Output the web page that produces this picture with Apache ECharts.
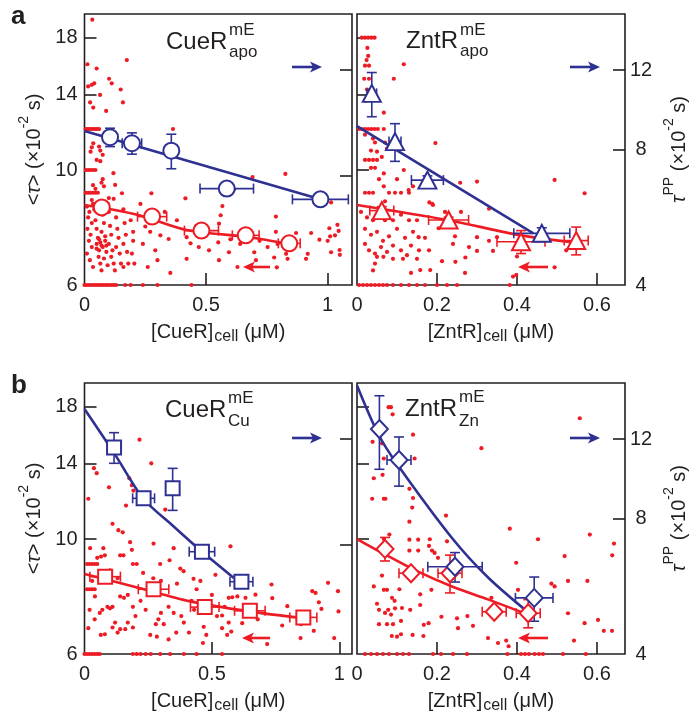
<!DOCTYPE html>
<html><head><meta charset="utf-8">
<script src="https://cdn.jsdelivr.net/npm/echarts@6/dist/echarts.min.js"></script>
<style>html,body{margin:0;padding:0;background:#fff}#c{width:691px;height:719px}</style>
</head><body><div id="c"></div><script>
// ---------- DATA ----------
// Panel a, left: CueR apo. Dots: [CueR]cell (uM), <tau> (x10^-2 s)
const aL_dots = [[0.032,19.5],[0.012,16.0],[0.05,15.7],[0.174,16.3],[0.101,15.0],[0.112,14.7],[0.149,14.3],[0.015,14.5],[0.03,14.6],[0.04,14.7],[0.064,13.96],[0.023,13.5],[0.036,13.2],[0.158,13.5],[0.089,13.0],
[0.005,12],[0.012,12],[0.02,12],[0.028,12],[0.036,12],[0.044,12],[0.052,12],[0.06,12],[0.364,12],
[0.036,11.26],[0.03,11.06],[0.025,10.85],[0.065,10.9],[0.075,10.7],[0.06,11.1],[0.05,10.46],[0.065,10.4],
[0.005,10],[0.015,10],[0.025,10],[0.035,10],[0.045,10],
[0.119,9.86],[0.075,9.6],[0.07,9.45],[0.08,9.3],[0.126,9.36],[0.035,9.35],[0.045,9.2],
[0.005,9.04],[0.015,9.04],[0.025,9.04],[0.035,9.04],[0.045,9.04],[0.055,9.04],
[0.154,9.02],[0.275,9.02],[0.1,8.83],[0.12,8.8],[0.03,8.75],[0.035,8.6],
[0.01,8.5],[0.02,8.3],[0.015,8.1],[0.03,7.9],[0.012,7.7],[0.025,7.5],[0.018,7.3],[0.03,7.1],[0.01,6.9],[0.022,6.7],[0.035,6.5],[0.04,8.4],[0.045,8.0],[0.05,7.7],[0.055,7.4],[0.05,7.2],[0.06,7.0],[0.058,6.8],[0.065,6.6],[0.07,6.4],[0.075,8.2],[0.08,7.9],[0.07,7.6],[0.085,7.3],[0.075,7.1],[0.09,6.95],[0.08,6.75],[0.095,6.55],[0.1,8.3],[0.105,7.8],[0.11,7.5],[0.1,7.2],[0.115,7.0],[0.11,6.8],[0.12,6.6],[0.125,6.4],[0.13,8.1],[0.135,7.7],[0.14,7.4],[0.13,7.1],[0.145,6.9],[0.15,6.6],[0.16,8.4],[0.165,7.9],[0.17,7.5],[0.16,7.2],[0.175,6.95],[0.18,6.6],[0.19,8.0],[0.2,7.6],[0.2,7.3],[0.195,6.9],[0.205,6.6],[0.16,6.5],[0.06,7.35],[0.065,7.25],[0.07,7.15],[0.05,7.05],[0.085,7.45],[0.09,7.15],
[0.25,7.78],[0.312,7.48],[0.291,7.0],[0.346,7.36],[0.42,7.42],[0.436,7.22],[0.353,6.33],[0.42,6.74],[0.512,7.0],
[0.33,8.3],[0.38,8.0],[0.23,8.6],[0.27,7.6],[0.24,7.2],[0.3,6.7],[0.26,6.5],
[0.0,6],[0.01,6],[0.02,6],[0.03,6],[0.04,6],[0.05,6],[0.06,6],[0.07,6],[0.08,6],[0.09,6],[0.1,6],[0.11,6],[0.12,6],[0.13,6],[0.167,6],[0.19,6],[0.24,6],[0.3,6],[0.44,6],
[0.826,9.83],[0.691,9.69],[1.014,8.66],[0.567,8.52],[0.56,8.18],[0.553,7.88],[0.787,7.6],[0.87,7.56],[0.932,7.56],[0.966,7.34],[1.0,7.3],[1.007,7.72],[1.04,7.84],[1.045,7.63],[1.01,7.45],[1.03,7.48],[0.753,7.1],[0.794,7.2],[0.78,6.78],[0.829,6.89],[0.835,6.74],[0.911,6.74],[0.918,6.89],[1.014,6.94],[1.049,7.01],[1.05,6.86],[0.594,6.94],[0.698,6.94],[0.705,6.7],[0.553,6.7],[0.629,6.5],[0.791,6.49],[0.615,9.18],[0.415,8.82],[0.787,8.13],
[0.46,7.8],[0.5,7.5],[0.6,7.35],[0.64,7.2],[0.68,7.55],[0.72,7.3],[0.47,7.1],[0.55,7.25]];
const aL_redX = [0.071,0.278,0.481,0.663,0.842];
const aL_redY = [8.47,8.13,7.64,7.48,7.22];
const aL_redXErr = [0.03,0.06,0.07,0.055,0.045];
const aL_redYErr = [0.1,0.1,0.1,0.1,0.1];
const aL_blueX = [0.105,0.195,0.357,0.585,0.97];
const aL_blueY = [8.52,8.26,7.95,6.55,6.2];
const aL_blueXErr = [0.02,0.04,0.02,0.11,0.115];
const aL_blueYErr = [0.4,0.45,0.7,0.12,0.1];
const aL_redFit = [[0,8.56],[0.216,8.2],[0.42,7.66],[0.677,7.42],[0.842,7.2]];
const aL_blueFit = [[0,8.79],[0.97,6.2]];

// Panel a, right: ZntR apo
const aR_dots = [[0.012,18],[0.02,18],[0.028,18],[0.036,18],[0.044,18],
[0.026,17.2],[0.028,16.6],[0.024,16.3],[0.02,15.9],[0.03,15.9],[0.117,16.0],[0.018,15.0],[0.03,15.0],[0.092,15.0],[0.025,14.3],[0.022,13.6],[0.067,12.9],
[0.005,12],[0.012,12],[0.02,12],[0.028,12],[0.036,12],[0.044,12],[0.052,12],[0.067,12],
[0.02,11.7],[0.04,11.5],[0.045,11.3],[0.07,11.3],[0.196,11.27],[0.075,11.0],[0.035,10.9],[0.05,10.85],[0.062,10.6],
[0.02,10.46],[0.03,10.46],[0.04,10.46],[0.05,10.46],[0.035,10.1],[0.045,10.1],[0.117,10.0],[0.067,9.85],[0.055,9.6],[0.067,9.3],[0.1,9.6],[0.14,9.3],[0.258,9.45],[0.30,9.5],
[0.02,9.04],[0.03,9.04],[0.04,9.04],[0.08,9.04],[0.095,9.04],[0.11,9.04],[0.13,9.04],
[0.129,9.15],[0.181,8.66],[0.188,8.6],[0.19,8.56],[0.07,8.7],
[0.01,8.3],[0.025,8.1],[0.04,8.0],[0.055,8.1],[0.07,8.0],[0.09,8.0],[0.11,8.2],[0.13,8.0],[0.15,8.0],[0.02,7.7],[0.035,7.5],[0.05,7.6],[0.065,7.3],[0.08,7.45],[0.1,7.7],[0.12,7.4],[0.14,7.6],[0.154,7.42],[0.17,7.4],[0.02,7.2],[0.03,7.0],[0.045,6.9],[0.06,7.1],[0.075,6.95],[0.09,7.15],[0.11,7.0],[0.125,6.85],[0.135,7.15],[0.155,7.0],[0.18,7.0],[0.09,6.74],[0.115,6.74],[0.15,6.74],[0.05,6.8],[0.066,6.8],[0.045,6.6],[0.158,6.41],[0.183,6.41],[0.2125,6.67],[0.246,6.65],[0.271,6.78],[0.30,7.42],[0.30,6.98],[0.245,7.45],[0.204,7.72],[0.22,8.3],[0.26,8.3],[0.24,7.2],[0.28,7.1],[0.33,8.42],[0.33,7.3],[0.35,7.42],[0.34,6.98],[0.40,6.81],[0.494,6.49],[0.398,6.27],[0.382,6.0],[0.39,6.23],[0.494,9.57],[0.569,9.02],[0.523,7.0],[0.27,6.33],[0.135,6.33],[0.04,6.4],
[0.005,6],[0.015,6],[0.025,6],[0.035,6],[0.045,6],[0.055,6],[0.065,6],[0.075,6],[0.09,6],[0.11,6],[0.13,6],[0.15,6],[0.17,6],[0.2,6],[0.225,6],[0.25,6]];
const aR_redX = [0.062,0.229,0.41,0.548];
const aR_redY = [8.35,8.01,7.27,7.31];
const aR_redXErr = [0.03,0.05,0.06,0.03];
const aR_redYErr = [0.15,0.1,0.37,0.45];
const aR_blueX = [0.037,0.095,0.176,0.462];
const aR_blueY = [10.66,8.33,6.84,5.21];
const aR_blueXErr = [0.012,0.015,0.04,0.07];
const aR_blueYErr = [1.2,0.8,0.15,0.15];
const aR_redFit = [[0,8.56],[0.229,8.0],[0.41,7.48],[0.55,7.24]];
const aR_blueFit = [[0,9.02],[0.441,5.21]];

// Panel b, left: CueR Cu
const bL_dots = [[0.216,15.55],[0.262,14.0],[0.037,13.7],[0.048,13.4],[0.096,12.58],[0.176,13.1],[0.186,12.7],[0.192,12.4],[0.015,11.96],[0.163,11.6],[0.317,11.4],[0.11,10.7],[0.133,10.4],[0.15,10.3],[0.179,9.86],[0.271,9.8],[0.022,9.6],[0.074,9.6],[0.186,9.53],[0.35,9.6],[0.14,9.3],[0.153,9.3],[0.05,9.2],[0.065,9.25],[0.08,9.3],
[0.01,8.95],[0.02,8.95],[0.03,8.95],[0.04,8.95],[0.05,8.95],
[0.19,8.95],[0.205,8.95],[0.297,8.95],[0.334,9.1],[0.376,8.77],[0.389,8.67],
[0.01,8.0],[0.02,8.0],[0.03,8.0],[0.04,8.0],
[0.363,8.2],[0.428,8.38],[0.455,8.3],[0.041,7.75],[0.09,7.4],[0.1,7.35],[0.11,7.4],[0.06,7.2],[0.07,7.3],[0.14,7.75],[0.155,7.7],[0.17,7.8],[0.19,7.4],[0.2,7.1],[0.17,6.9],[0.19,6.75],[0.16,6.7],[0.14,6.7],[0.015,6.73],[0.064,6.53],[0.08,6.55],[0.12,6.9],[0.11,6.75],[0.13,6.6],[0.258,6.53],[0.284,6.48],[0.28,6.85],[0.29,7.0],[0.3,7.2],[0.33,7.4],[0.35,7.2],[0.311,6.85],[0.38,7.1],[0.39,6.9],[0.468,6.77],[0.478,6.53],[0.465,6.3],[0.24,7.3],[0.22,7.6],[0.25,8.1],[0.27,8.4],[0.3,8.3],[0.23,8.6],[0.13,8.4],[0.1,8.7],[0.06,8.5],[0.03,8.3],[0.02,7.3],[0.04,7.0],[0.42,7.6],[0.44,8.0],[0.43,7.3],[0.41,6.6],[0.36,6.6],[0.33,6.4],
[0.0,6],[0.01,6],[0.02,6],[0.03,6],[0.04,6],[0.05,6],[0.06,6],[0.19,6],[0.205,6],[0.22,6],[0.24,6],[0.26,6],[0.297,6],[0.336,6],[0.39,6],[0.44,6],[0.54,6],
[0.573,9.68],[0.514,8.53],[0.566,7.7],[0.58,7.72],[0.6,7.75],[0.632,7.7],[0.671,7.81],[0.734,8.17],[0.737,7.69],[0.796,7.42],[0.776,6.81],[0.848,6.44],[0.9,6.65],[0.894,7.93],[0.907,7.87],[0.92,7.55],[0.93,7.33],[0.956,8.23],[0.995,7.93],[0.997,7.25],[0.98,6.44],[0.717,6.27],[0.566,6.9],[0.576,6.63],[0.56,6.53],[0.54,6.73],[0.52,7.1],[0.54,7.12],[0.619,6.88],[0.68,7.0],[0.86,7.1],[0.85,6.85],[0.5,7.8],[0.55,7.4]];
const bL_redX = [0.081,0.271,0.472,0.649,0.859];
const bL_redY = [8.46,8.0,7.39,7.27,7.06];
const bL_redXErr = [0.06,0.06,0.056,0.06,0.053];
const bL_redYErr = [0.1,0.1,0.1,0.1,0.1];
const bL_blueX = [0.116,0.232,0.346,0.461,0.616];
const bL_blueY = [11.51,8.87,9.34,6.75,5.79];
const bL_blueXErr = [0.015,0.043,0.01,0.05,0.045];
const bL_blueYErr = [0.9,0.2,1.0,0.15,0.1];
const bL_redFit = [[0,8.56],[0.192,8.1],[0.415,7.58],[0.645,7.25],[0.861,7.03]];
const bL_blueFit = [[0,14.0],[0.12,11.09],[0.2315,8.85],[0.35,7.68],[0.4575,6.78],[0.586,5.9]];

// Panel b, right: ZntR Zn
const bR_dots = [[0.079,17.96],[0.085,17.96],[0.089,17.4],[0.14,15.9],[0.039,15.4],[0.0625,15.3],[0.311,14.97],[0.067,14.3],[0.144,14.3],[0.042,13.1],[0.064,13.3],[0.131,12.5],[0.038,11.96],[0.067,11.96],[0.071,11.96],[0.14,12.0],[0.138,11.5],[0.2225,11.1],[0.131,10.8],[0.081,10.2],[0.067,10.0],[0.131,9.97],[0.153,9.97],[0.131,9.5],[0.153,9.5],[0.182,9.99],[0.1875,9.5],[0.194,9.4],[0.2025,9.2],[0.18,9.7],[0.225,9.9],[0.042,8.1],[0.0625,8.5],[0.067,7.98],[0.075,7.98],[0.106,8.0],[0.0875,7.7],[0.094,7.6],[0.158,7.82],[0.186,7.98],[0.05,7.5],[0.055,7.3],[0.07,7.2],[0.078,7.3],[0.085,7.15],[0.095,7.35],[0.1125,7.36],[0.133,7.3],[0.158,7.46],[0.211,7.08],[0.179,6.88],[0.167,6.83],[0.055,6.85],[0.075,6.85],[0.09,6.85],[0.11,6.95],[0.087,6.5],[0.1,6.48],[0.11,6.55],[0.139,6.53],[0.166,6.5],[0.25,7.03],[0.2525,6.73],[0.276,7.1],[0.29,6.8],[0.275,6.0],[0.24,6.0],[0.21,6.0],[0.19,6.0],
[0.02,6],[0.035,6],[0.05,6],[0.065,6],[0.08,6],[0.1,6],[0.115,6],[0.13,6],
[0.557,17.1],[0.382,10.47],[0.4525,9.99],[0.582,10.2],[0.6425,9.8],[0.638,9.3],[0.519,9.27],[0.398,9.0],[0.486,8.2],[0.494,8.1],[0.5275,8.3],[0.576,8.3],[0.4025,7.98],[0.336,7.7],[0.5275,7.19],[0.569,6.88],[0.6025,6.98],[0.617,6.65],[0.6375,6.65],[0.5425,6.37],[0.3275,6.44],[0.3525,6.3],[0.373,6.37],[0.379,6.21],[0.376,6],[0.41,6],[0.42,6],[0.43,6],[0.444,6],[0.455,6],[0.465,6],[0.515,6],[0.572,6]];
const bR_redX = [0.07,0.135,0.2325,0.343,0.428];
const bR_redY = [9.57,8.59,8.59,7.24,7.19];
const bR_redXErr = [0.01,0.03,0.03,0.03,0.03];
const bR_redYErr = [0.5,0.1,0.72,0.1,0.45];
const bR_blueX = [0.056,0.105,0.245,0.443];
const bR_blueY = [12.64,10.79,6.25,5.33];
const bR_blueXErr = [0.01,0.03,0.068,0.047];
const bR_blueYErr = [2.35,1.35,0.47,0.6];
const bR_redFit = [[0,10.0],[0.071,9.33],[0.154,8.64],[0.2375,8.1],[0.329,7.64],[0.44,7.09]];
const bR_blueFit = [[0,15.8],[0.054,12.28],[0.104,10.45],[0.2375,7.24],[0.329,5.9],[0.44,4.85]];

// Axis ticks / labels
const xMaxL = [1.1, 1.05], xMaxR = 0.67;
const xLabelsL = [0, 0.5, 1], xTicksL = [0.5, 1];
const xLabelsR = [0, 0.2, 0.4, 0.6], xTicksR = [0.2, 0.4, 0.6];
const tauMin = 6, tauMax = 20, tauLabels = [6, 10, 14, 18], tauTicks = [10, 14, 18];
const ppMin = 4, ppMax = 16, ppLabels = [4, 8, 12], ppTicks = [8, 12], ppTicksInner = [7, 12];

// ---------- CHART ----------
const F = '"Liberation Sans", Arial, sans-serif';
const BLUE = '#2e3192', RED = '#ed1c24', INK = '#231f20';
const chart = echarts.init(document.getElementById('c'), null, {renderer: 'canvas'});

const grids = [
  {left: 84.5, top: 14, width: 267.5, height: 271},
  {left: 357, top: 14, width: 268, height: 271},
  {left: 84.5, top: 383, width: 267.5, height: 271},
  {left: 357, top: 383, width: 268, height: 271}
].map(g => Object.assign(g, {show: true, borderColor: INK, borderWidth: 1.6, backgroundColor: 'transparent',
  containLabel: false, outerBoundsMode: 'none'}));

const tickStyle = {color: INK, width: 1.6};
const labelBase = {fontSize: 20, fontFamily: F, color: INK};
const richName = {
  b: {fontSize: 20, fontFamily: F, color: INK, lineHeight: 20, padding: [7, 0, 0, 0], verticalAlign: 'top'},
  i: {fontSize: 20, fontFamily: F, color: INK, fontStyle: 'italic', lineHeight: 20, padding: [7, 0, 0, 0], verticalAlign: 'top'},
  p: {fontSize: 14, fontFamily: F, color: INK, lineHeight: 14, verticalAlign: 'top'},
  s: {fontSize: 16, fontFamily: F, color: INK, lineHeight: 16, padding: [13, 0, 0, 1], verticalAlign: 'top'}
};

function xAxis(gi, left, max, nameStr) {
  return {
    type: 'value', gridIndex: gi, min: 0, max: max,
    axisLine: {show: false}, splitLine: {show: false},
    axisTick: {show: true, inside: true, length: 12, lineStyle: tickStyle, customValues: left ? xTicksL : xTicksR},
    axisLabel: Object.assign({margin: 10, customValues: left ? xLabelsL : xLabelsR,
      formatter: v => String(v)}, labelBase),
    name: nameStr, nameLocation: 'middle', nameGap: 30,
    nameTextStyle: {rich: richName}
  };
}
function tauAxis(gi, show) {
  return {
    type: 'log', logBase: 10, gridIndex: gi, min: tauMin, max: tauMax, position: 'left',
    axisLine: {show: false}, splitLine: {show: false}, minorTick: {show: false}, minorSplitLine: {show: false},
    axisTick: {show: true, inside: true, length: 12, lineStyle: tickStyle, customValues: tauTicks},
    axisLabel: Object.assign({show: show, margin: 7, customValues: tauLabels, formatter: v => String(Math.round(v))}, labelBase),
    name: show ? '{b|<}{i|τ}{b|> (×10}{p|-2}{b| s)}' : '', nameLocation: 'middle', nameGap: 47,
    nameTextStyle: {rich: richName}
  };
}
function ppAxis(gi, show) {
  return {
    type: 'log', logBase: 10, gridIndex: gi, min: ppMin, max: ppMax, position: 'right',
    axisLine: {show: false}, splitLine: {show: false}, minorTick: {show: false}, minorSplitLine: {show: false},
    axisTick: {show: true, inside: true, length: 12, lineStyle: tickStyle, customValues: show ? ppTicks : ppTicksInner},
    axisLabel: Object.assign({show: show, margin: 16, align: 'center', customValues: ppLabels, formatter: v => String(Math.round(v))}, labelBase),
    name: show ? '{i|τ}{p|PP}{b| (×10}{p|-2}{b| s)}' : '', nameLocation: 'middle', nameGap: 37,
    nameTextStyle: {rich: richName}
  };
}

const xAxes = [
  xAxis(0, true, xMaxL[0], '{b|[CueR]}{s|cell}{b| (μM)}'),
  xAxis(1, false, xMaxR, '{b|[ZntR]}{s|cell}{b| (μM)}'),
  xAxis(2, true, xMaxL[1], '{b|[CueR]}{s|cell}{b| (μM)}'),
  xAxis(3, false, xMaxR, '{b|[ZntR]}{s|cell}{b| (μM)}')
];
const yAxes = [
  tauAxis(0, true), ppAxis(0, false),
  tauAxis(1, false), ppAxis(1, true),
  tauAxis(2, true), ppAxis(2, false),
  tauAxis(3, false), ppAxis(3, true)
];

function errSeries(xi, yi, xs, ys, xe, ye, color) {
  return {
    type: 'custom', xAxisIndex: xi, yAxisIndex: yi, z: 3, silent: true, clip: false,
    data: xs.map((x, i) => [x, ys[i], xe[i], ye[i]]),
    encode: {x: 0, y: 1},
    renderItem: function (params, api) {
      const x = api.value(0), y = api.value(1), dx = api.value(2), dy = api.value(3);
      const L = api.coord([x - dx, y]), R = api.coord([x + dx, y]);
      const T = api.coord([x, y + dy]), B = api.coord([x, y - dy]);
      const h = 5;
      const st = {stroke: color, lineWidth: 1.6, fill: null};
      const seg = (x1, y1, x2, y2) => ({type: 'line', shape: {x1, y1, x2, y2}, style: st});
      return {type: 'group', children: [
        seg(L[0], L[1], R[0], R[1]), seg(L[0], L[1] - h, L[0], L[1] + h), seg(R[0], R[1] - h, R[0], R[1] + h),
        seg(T[0], T[1], B[0], B[1]), seg(T[0] - h, T[1], T[0] + h, T[1]), seg(B[0] - h, B[1], B[0] + h, B[1])
      ]};
    }
  };
}
function markerSeries(xi, yi, xs, ys, color, symbol, size) {
  return {
    type: 'scatter', xAxisIndex: xi, yAxisIndex: yi, z: 4, silent: true,
    symbol: symbol, symbolSize: size,
    data: xs.map((x, i) => [x, ys[i]]),
    itemStyle: {color: '#ffffff', borderColor: color, borderWidth: 2, opacity: 1}
  };
}
function fitSeries(xi, yi, pts, color) {
  return {
    type: 'line', xAxisIndex: xi, yAxisIndex: yi, z: 2, silent: true, showSymbol: false, symbol: 'none',
    smooth: 0.3, data: pts, lineStyle: {color: color, width: 2.6}
  };
}
function dotSeries(xi, yi, pts) {
  return {
    type: 'scatter', xAxisIndex: xi, yAxisIndex: yi, z: 1, silent: true, symbolSize: 4.2,
    data: pts, itemStyle: {color: RED, opacity: 1}, clip: false
  };
}

const panels = [
  {dots: aL_dots, rx: aL_redX, ry: aL_redY, rxe: aL_redXErr, rye: aL_redYErr, bx: aL_blueX, by: aL_blueY, bxe: aL_blueXErr, bye: aL_blueYErr, rf: aL_redFit, bf: aL_blueFit, sym: 'circle', size: 16},
  {dots: aR_dots, rx: aR_redX, ry: aR_redY, rxe: aR_redXErr, rye: aR_redYErr, bx: aR_blueX, by: aR_blueY, bxe: aR_blueXErr, bye: aR_blueYErr, rf: aR_redFit, bf: aR_blueFit, sym: 'triangle', size: [18, 17]},
  {dots: bL_dots, rx: bL_redX, ry: bL_redY, rxe: bL_redXErr, rye: bL_redYErr, bx: bL_blueX, by: bL_blueY, bxe: bL_blueXErr, bye: bL_blueYErr, rf: bL_redFit, bf: bL_blueFit, sym: 'rect', size: 14},
  {dots: bR_dots, rx: bR_redX, ry: bR_redY, rxe: bR_redXErr, rye: bR_redYErr, bx: bR_blueX, by: bR_blueY, bxe: bR_blueXErr, bye: bR_blueYErr, rf: bR_redFit, bf: bR_blueFit, sym: 'diamond', size: [17, 18]}
];
const series = [];
panels.forEach((p, gi) => {
  const yl = gi * 2, yr = gi * 2 + 1;
  series.push(dotSeries(gi, yl, p.dots));
  series.push(fitSeries(gi, yl, p.rf, RED));
  series.push(fitSeries(gi, yr, p.bf, BLUE));
  series.push(errSeries(gi, yl, p.rx, p.ry, p.rxe, p.rye, RED));
  series.push(errSeries(gi, yr, p.bx, p.by, p.bxe, p.bye, BLUE));
  series.push(markerSeries(gi, yl, p.rx, p.ry, RED, p.sym, p.size));
  series.push(markerSeries(gi, yr, p.bx, p.by, BLUE, p.sym, p.size));
});

// decorations: arrows, panel titles, panel letters
function arrow(x1, x2, y, color) {
  const d = Math.sign(x2 - x1);
  return [
    {type: 'line', shape: {x1: x1, y1: y, x2: x2 - d * 8, y2: y}, style: {stroke: color, lineWidth: 2.6}, silent: true},
    {type: 'polygon', shape: {points: [[x2, y], [x2 - d * 12, y - 5.5], [x2 - d * 9, y], [x2 - d * 12, y + 5.5]]}, style: {fill: color}, silent: true}
  ];
}
function txt(x, y, s, size, weight) {
  return {type: 'text', x: x, y: y, silent: true,
    style: {text: s, font: (weight || 'normal') + ' ' + size + 'px ' + F, fill: INK, align: 'left', verticalAlign: 'middle'}};
}
const graphics = [].concat(
  arrow(292, 322, 67, BLUE), arrow(570, 600, 67, BLUE), arrow(292, 322, 438, BLUE), arrow(570, 600, 438, BLUE),
  arrow(270, 243, 267, RED), arrow(548, 518, 267, RED), arrow(270, 242, 638, RED), arrow(548, 518, 638, RED),
  [
    txt(166, 42, 'CueR', 24), txt(229, 30, 'mE', 17), txt(229, 52, 'apo', 17),
    txt(406, 41, 'ZntR', 24), txt(460, 30, 'mE', 17), txt(460, 51, 'apo', 17),
    txt(165, 410, 'CueR', 24), txt(228, 398, 'mE', 17), txt(228, 421, 'Cu', 17),
    txt(405, 409, 'ZntR', 24), txt(459, 397, 'mE', 17), txt(459, 421, 'Zn', 17),
    txt(11, 17, 'a', 26, 'bold'), txt(11, 386, 'b', 26, 'bold')
  ]
);

chart.setOption({
  animation: false,
  backgroundColor: '#ffffff',
  grid: grids,
  xAxis: xAxes,
  yAxis: yAxes,
  series: series,
  graphic: graphics
});
</script></body></html>
